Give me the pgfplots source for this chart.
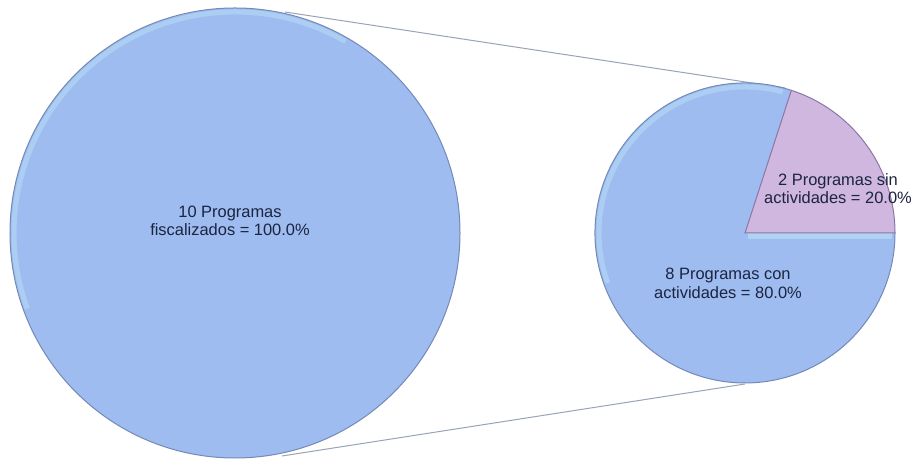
\documentclass[border=0pt]{standalone}
\usepackage{pgfplots}
\pgfplotsset{compat=1.18}
\usepackage{pgfplotstable}
\usepackage{fontspec}
\setmainfont{Liberation Sans}
\definecolor{pieblue}{HTML}{9EBCF0}
\definecolor{blueedge}{HTML}{7489B8}
\definecolor{bluehi}{HTML}{B8DEF7}
\definecolor{piepink}{HTML}{CFB7DF}
\definecolor{pinkedge}{HTML}{8A77A6}
\definecolor{linegray}{HTML}{98A3B5}
\definecolor{labeltext}{HTML}{1C2440}

\pgfplotstableread{
name value
fiscalizados 10
con 8
sin 2
}\piedata

\begin{document}
\begin{tikzpicture}
\pgfplotstablegetelem{0}{value}\of\piedata \edef\vtot{\pgfplotsretval}
\pgfplotstablegetelem{1}{value}\of\piedata \edef\vcon{\pgfplotsretval}
\pgfplotstablegetelem{2}{value}\of\piedata \edef\vsin{\pgfplotsretval}
\pgfmathsetmacro\angsin{360*\vsin/(\vcon+\vsin)}
\begin{axis}[x=1bp,y=1bp,xmin=0,xmax=918,ymin=0,ymax=464,hide axis,clip=false]
\coordinate (BL) at (axis cs:0,0);
\coordinate (TR) at (axis cs:918,464);
% connector lines
\draw[linegray, line width=1bp] (axis cs:285,452) -- (axis cs:785,376);
\draw[linegray, line width=1bp] (axis cs:282,8) -- (axis cs:745,80);
% big pie (100%)
\fill[pieblue] (axis cs:235,231) circle[radius=225bp];
\draw[bluehi, line width=5bp, opacity=0.55] (axis cs:235,231) ++(60:221bp) arc[start angle=60,end angle=200,radius=221bp];
\draw[blueedge, line width=1bp] (axis cs:235,231) circle[radius=225bp];
% small pie
\fill[pieblue] (axis cs:745,231) -- ++(\angsin:150bp) arc[start angle=\angsin,end angle=360,radius=150bp] -- cycle;
\draw[bluehi, line width=5bp, opacity=0.55] (axis cs:745,231) ++(\angsin+3:146bp) arc[start angle=\angsin+3,end angle=200,radius=146bp];
\draw[bluehi, line width=6bp, opacity=0.7] (axis cs:748,228) -- (axis cs:892,228);
\fill[piepink] (axis cs:745,231) -- ++(0:150bp) arc[start angle=0,end angle=\angsin,radius=150bp] -- cycle;
\draw[pinkedge, line width=1bp] (axis cs:745,231) -- ++(0:150bp) arc[start angle=0,end angle=\angsin,radius=150bp] -- cycle;
\draw[blueedge, line width=1bp] (axis cs:745,231) ++(\angsin:150bp) arc[start angle=\angsin,end angle=360,radius=150bp];
% labels
\node[labeltext, align=center, inner sep=0pt, font=\fontsize{16.5}{18}\selectfont] at (axis cs:230,243) {10 Programas\\fiscalizados = 100.0\%};
\node[labeltext, align=center, inner sep=0pt, font=\fontsize{16.5}{19}\selectfont] at (axis cs:728,181) {8 Programas con\\actividades = 80.0\%};
\node[labeltext, align=center, inner sep=0pt, font=\fontsize{16.5}{18}\selectfont] at (axis cs:838,275) {2 Programas sin\\actividades = 20.0\%};
\end{axis}
\pgfresetboundingbox
\useasboundingbox (BL) rectangle (TR);
\end{tikzpicture}
\end{document}
